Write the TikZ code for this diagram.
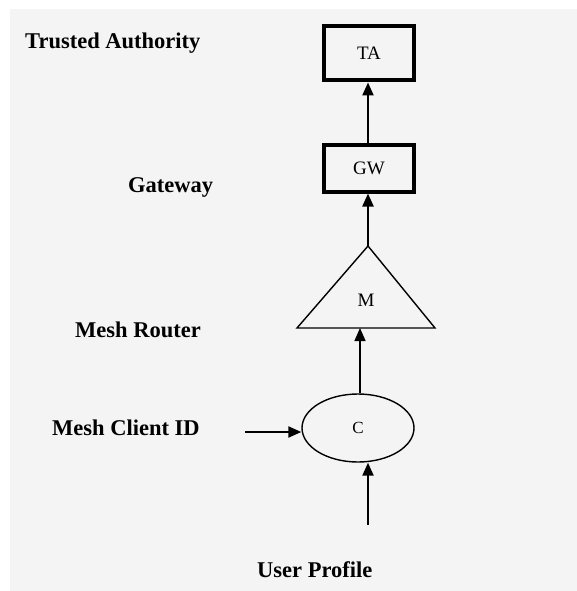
\documentclass[tikz,border=0pt]{standalone}
\usepackage{fontspec}
\setmainfont{Liberation Serif}
\usetikzlibrary{shapes.geometric,arrows.meta}
\definecolor{bg}{HTML}{F4F4F4}
\begin{document}
\begin{tikzpicture}[x=1pt,y=-1pt,
  lab/.style={anchor=base west,inner sep=0pt,font=\fontsize{22.5}{24}\selectfont\bfseries},
  boxnode/.style={draw,line width=4pt,minimum width=90pt,inner sep=0pt,font=\fontsize{19}{20}\selectfont},
  conn/.style={line width=2.2pt,-{Triangle[length=13pt,width=11pt]}},
  thinconn/.style={line width=1.4pt,-{Triangle[length=13pt,width=11pt]}}]
\useasboundingbox (0,0) rectangle (577,591);
\fill[white] (0,0) rectangle (577,591);
\fill[bg] (10,9) rectangle (577,591);
% labels
\node[lab] (lTA) at (25,49) {Trusted Authority};
\node[lab] (lGW) at (128,192) {Gateway};
\node[lab] (lMR) at (75,337) {Mesh Router};
\node[lab] (lMC) at (52,435) {Mesh Client ID};
\node[lab] (lUP) at (257,577) {User Profile};
% nodes
\node[boxnode,minimum height=54pt] (TA) at (369,53.5) {TA};
\node[boxnode,minimum height=47pt] (GW) at (369,168) {GW};
\coordinate (apex) at (368,246);
\coordinate (bl) at (297,328);
\coordinate (br) at (435,328);
\draw[line width=1.4pt] (apex) -- (bl) -- (br) -- cycle;
\node[font=\fontsize{19}{20}\selectfont] (M) at (366,300) {M};
\node[draw,ellipse,line width=1.4pt,minimum width=112pt,minimum height=68pt,inner sep=0pt,font=\fontsize{17}{18}\selectfont] (C) at (358,428) {C};
\coordinate (CIDstart) at (245,432);
\coordinate (UPstart) at (368,525);
% connectors
\draw[conn] (GW.north -| apex) -- (TA.south -| apex);
\draw[conn] (apex) -- (GW.south -| apex);
\draw[thinconn] (C.north -| 360,0) -- (360,328);
\draw[conn] (CIDstart) -- (CIDstart -| C.west);
\draw[conn] (UPstart) -- (UPstart |- C.south);
\end{tikzpicture}
\end{document}
